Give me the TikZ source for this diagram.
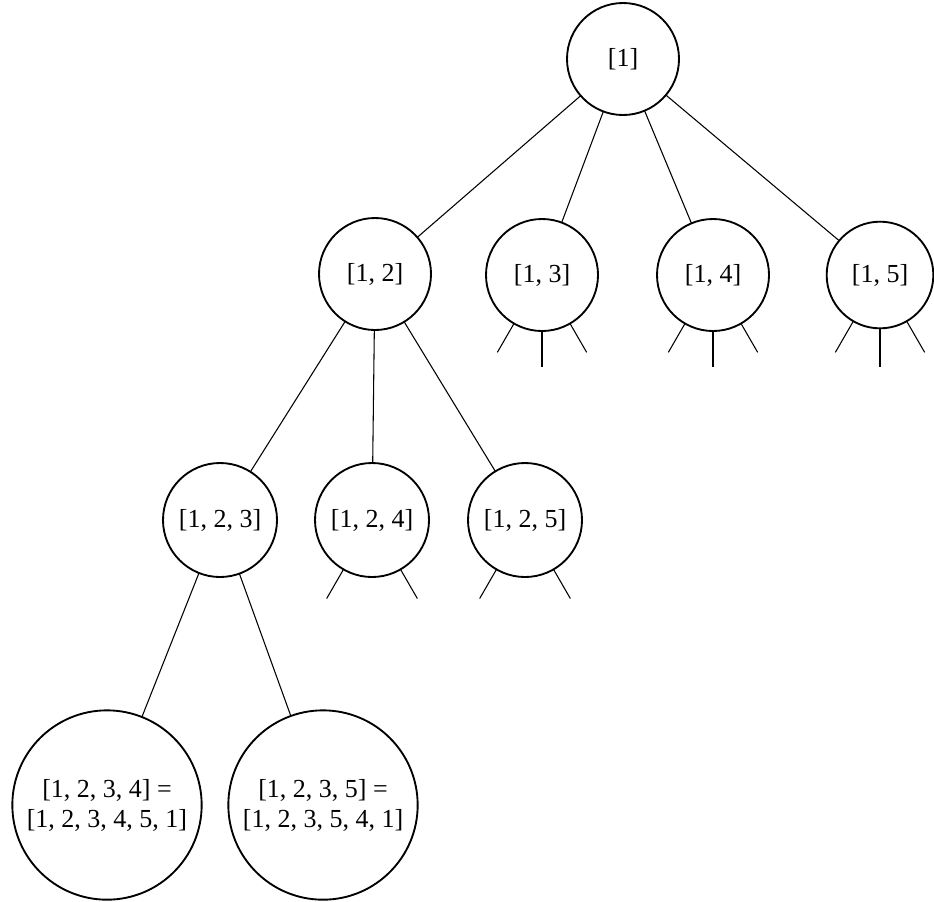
\documentclass[tikz,border=0pt]{standalone}
\usepackage{fontspec}
\setmainfont{Liberation Serif}
\usetikzlibrary{calc}
\begin{document}
\begin{tikzpicture}[x=0.75pt,y=-0.75pt,
  state/.style={circle,draw=black,line width=1.4pt,inner sep=0pt,outer sep=0pt,
    font=\fontsize{19.5}{22.5}\selectfont,align=center},
  small/.style={state,minimum size=84pt},
  big/.style={state,minimum size=142pt},
  edge/.style={draw=black,line width=0.8pt},
]
\useasboundingbox (0,0) rectangle (934,901);
% nodes
\node[small] (r) at (623,59) {[1]};
\node[small] (n12) at (375,274) {[1, 2]};
\node[small] (n13) at (542,275) {[1, 3]};
\node[small] (n14) at (713,275) {[1, 4]};
\node[small,minimum size=80pt] (n15) at (880,275) {[1, 5]};
\node[small,minimum size=85.5pt] (n123) at (220,520) {[1, 2, 3]};
\node[small,minimum size=85.5pt] (n124) at (372,520) {[1, 2, 4]};
\node[small,minimum size=85.5pt] (n125) at (525,520) {[1, 2, 5]};
\node[big] (n1234) at (107,805) {[1, 2, 3, 4] =\\{}[1, 2, 3, 4, 5, 1]};
\node[big] (n1235) at (323,805) {[1, 2, 3, 5] =\\{}[1, 2, 3, 5, 4, 1]};
% edges
\draw[edge] (r) -- (n12);
\draw[edge] (r) -- (n13);
\draw[edge] (r) -- (n14);
\draw[edge] (r) -- (n15);
\draw[edge] (n12) -- (n123);
\draw[edge] (n12) -- (n124);
\draw[edge] (n12) -- (n125);
\draw[edge] (n123) -- (n1234);
\draw[edge] (n123) -- (n1235);
% stubs under level 2
\foreach \n in {n13,n14,n15}{
  \coordinate (\n a) at ($(\n)+(-120:67pt)$);
  \coordinate (\n b) at ($(\n)+(-90:69pt)$);
  \coordinate (\n c) at ($(\n)+(-60:67pt)$);
  \draw[edge] (\n.-120) -- (\n a);
  \draw[edge] (\n.-90) -- (\n b);
  \draw[edge] (\n.-60) -- (\n c);
}
% stubs under level 3
\foreach \n in {n124,n125}{
  \coordinate (\n a) at ($(\n)+(-120:68pt)$);
  \coordinate (\n c) at ($(\n)+(-60:68pt)$);
  \draw[edge] (\n.-120) -- (\n a);
  \draw[edge] (\n.-60) -- (\n c);
}
\end{tikzpicture}
\end{document}
